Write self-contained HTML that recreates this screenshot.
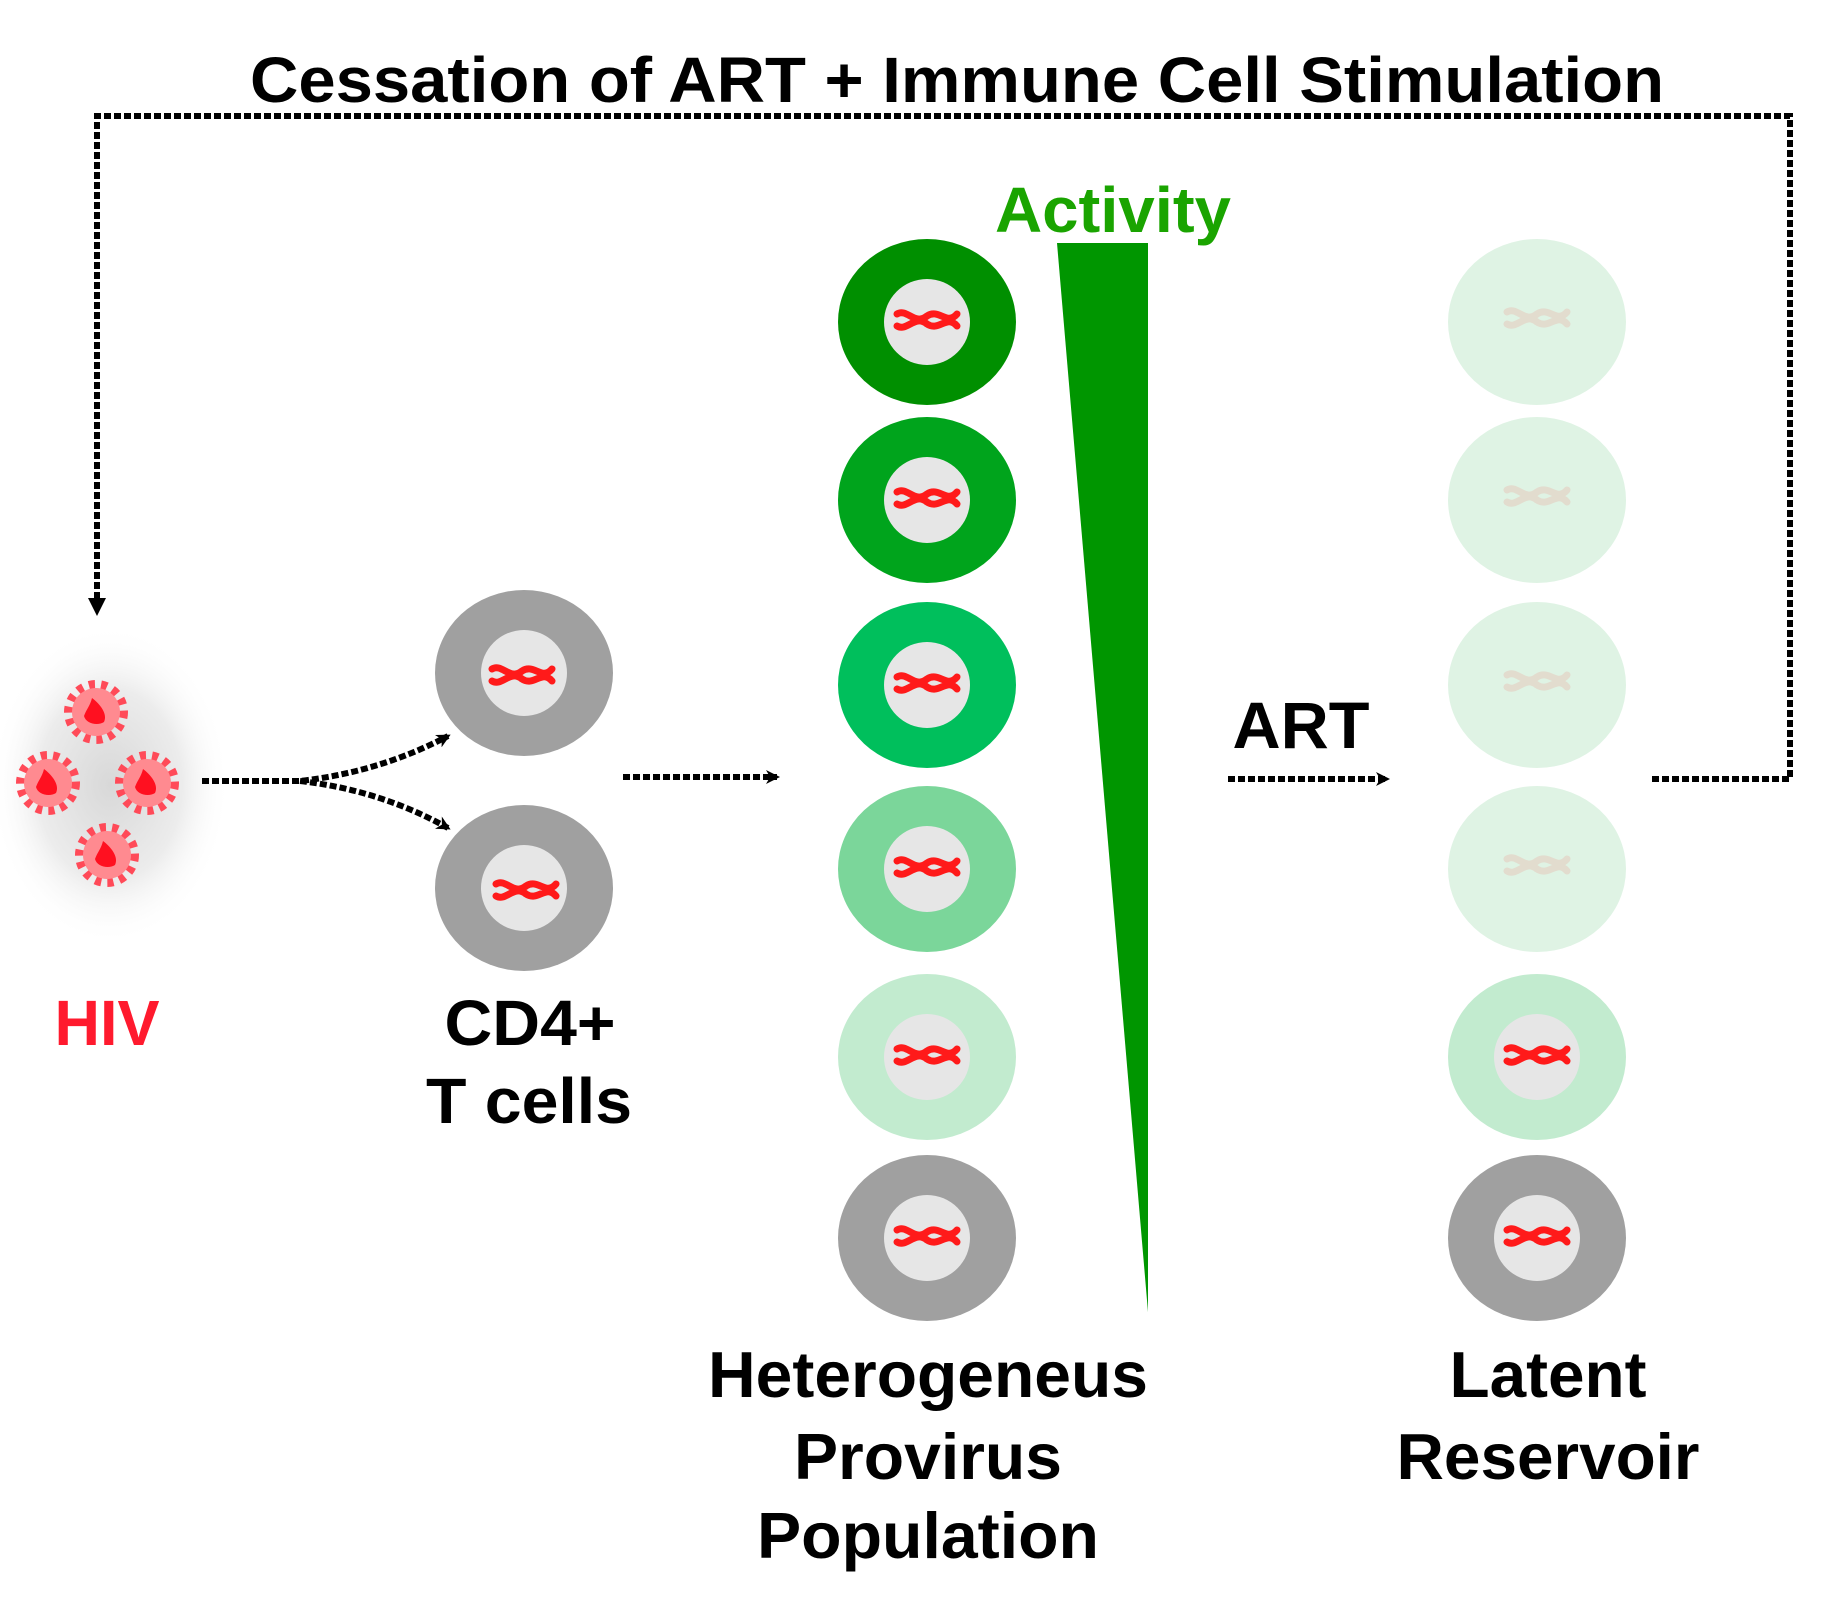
<!DOCTYPE html>
<html><head><meta charset="utf-8"><style>
html,body{margin:0;padding:0;background:#fff;}
svg{display:block;}
text{font-family:"Liberation Sans",Arial,sans-serif;font-weight:bold;}
</style></head><body>
<svg width="1840" height="1600" viewBox="0 0 1840 1600" xmlns="http://www.w3.org/2000/svg">
<defs>
<radialGradient id="glow" cx="50%" cy="50%" r="50%">
<stop offset="0" stop-color="#d8d8d8"/><stop offset="0.6" stop-color="#ececec"/><stop offset="1" stop-color="#fff" stop-opacity="0"/>
</radialGradient>
<marker id="ah" markerWidth="14" markerHeight="14" refX="11" refY="7" orient="auto" markerUnits="userSpaceOnUse">
<path d="M0,0 L14,7 L0,14 L4,7 Z" fill="#000"/>
</marker>
<g id="chr">
<path d="M-30,-6 C-20,-12 -12,6 0,-4 C12,-12 20,6 30,-6 M-30,6 C-20,12 -12,-6 0,4 C12,12 20,-6 30,6" fill="none" stroke="#ff1a1a" stroke-width="7" stroke-linecap="round"/>
</g>
<g id="virus">
<circle r="27" fill="none" stroke="#ff4a58" stroke-width="10" stroke-dasharray="6 6"/>
<circle r="24" fill="#ff8a90"/>
<path d="M-4,-14 C4,-8 12,2 8,10 C2,14 -10,12 -12,4 C-10,-2 -6,-6 -4,-14Z" fill="#ff1020"/>
</g>
</defs>

<text x="957" y="102" font-size="64" text-anchor="middle" textLength="1414" lengthAdjust="spacingAndGlyphs" fill="#000">Cessation of ART + Immune Cell Stimulation</text>

<g fill="none" stroke="#000" stroke-width="6" stroke-dasharray="7 3">
<path d="M97,609 L97,116 L1790,116 L1790,779 L1652,779"/>
</g>
<path d="M88,598 L97,616 L106,598 Z" fill="#000"/>

<ellipse cx="110" cy="785" rx="120" ry="160" fill="url(#glow)"/>
<use href="#virus" x="96" y="712"/>
<use href="#virus" x="48" y="783"/>
<use href="#virus" x="147" y="783"/>
<use href="#virus" x="107" y="855"/>

<text x="107" y="1045" font-size="64" text-anchor="middle" textLength="105" lengthAdjust="spacingAndGlyphs" fill="#ff1a2e">HIV</text>

<g fill="none" stroke="#000" stroke-width="6" stroke-dasharray="7 3">
<path d="M202,781 L300,781 Q380,772 448,736" marker-end="url(#ah)"/>
<path d="M300,781 Q380,790 448,828" marker-end="url(#ah)"/>
<path d="M623,777 L777,777" marker-end="url(#ah)"/>
<path d="M1228,779 L1387,779" marker-end="url(#ah)"/>
</g>

<ellipse cx="524" cy="673" rx="89" ry="83" fill="#a0a0a0"/>
<circle cx="524" cy="673" r="43" fill="#e6e6e6"/>
<use href="#chr" x="522" y="675"/>
<ellipse cx="524" cy="888" rx="89" ry="83" fill="#a0a0a0"/>
<circle cx="524" cy="888" r="43" fill="#e6e6e6"/>
<use href="#chr" x="526" y="890"/>

<text x="530" y="1045" font-size="64" text-anchor="middle" textLength="171" lengthAdjust="spacingAndGlyphs" fill="#000">CD4+</text>
<text x="529" y="1123" font-size="64" text-anchor="middle" textLength="206" lengthAdjust="spacingAndGlyphs" fill="#000">T cells</text>

<g>
<ellipse cx="927" cy="322" rx="89" ry="83" fill="#008f00"/><circle cx="927" cy="322" r="43" fill="#e6e6e6"/><use href="#chr" x="927" y="320"/>
<ellipse cx="927" cy="500" rx="89" ry="83" fill="#00a41c"/><circle cx="927" cy="500" r="43" fill="#e6e6e6"/><use href="#chr" x="927" y="498"/>
<ellipse cx="927" cy="685" rx="89" ry="83" fill="#00bf5c"/><circle cx="927" cy="685" r="43" fill="#e6e6e6"/><use href="#chr" x="927" y="683"/>
<ellipse cx="927" cy="869" rx="89" ry="83" fill="#7bd69a"/><circle cx="927" cy="869" r="43" fill="#e6e6e6"/><use href="#chr" x="927" y="867"/>
<ellipse cx="927" cy="1057" rx="89" ry="83" fill="#c2ebcf"/><circle cx="927" cy="1057" r="43" fill="#e6e6e6"/><use href="#chr" x="927" y="1055"/>
<ellipse cx="927" cy="1238" rx="89" ry="83" fill="#a0a0a0"/><circle cx="927" cy="1238" r="43" fill="#e6e6e6"/><use href="#chr" x="927" y="1236"/>
</g>

<polygon points="1057,243 1148,243 1148,1312" fill="#009600"/>
<text x="1113" y="232" font-size="64" text-anchor="middle" textLength="236" lengthAdjust="spacingAndGlyphs" fill="#1aa400">Activity</text>

<text x="1301" y="748" font-size="66" text-anchor="middle" textLength="137" lengthAdjust="spacingAndGlyphs" fill="#000">ART</text>

<g>
<ellipse cx="1537" cy="322" rx="89" ry="83" fill="#dff3e4"/><g opacity="0.1"><use href="#chr" x="1537" y="318"/></g>
<ellipse cx="1537" cy="500" rx="89" ry="83" fill="#dff3e4"/><g opacity="0.1"><use href="#chr" x="1537" y="496"/></g>
<ellipse cx="1537" cy="685" rx="89" ry="83" fill="#dff3e4"/><g opacity="0.1"><use href="#chr" x="1537" y="681"/></g>
<ellipse cx="1537" cy="869" rx="89" ry="83" fill="#dff3e4"/><g opacity="0.1"><use href="#chr" x="1537" y="865"/></g>
<ellipse cx="1537" cy="1057" rx="89" ry="83" fill="#c2ebcf"/><circle cx="1537" cy="1057" r="43" fill="#e6e6e6"/><use href="#chr" x="1537" y="1055"/>
<ellipse cx="1537" cy="1238" rx="89" ry="83" fill="#a0a0a0"/><circle cx="1537" cy="1238" r="43" fill="#e6e6e6"/><use href="#chr" x="1537" y="1236"/>
</g>

<text x="928" y="1397" font-size="65" text-anchor="middle" textLength="440" lengthAdjust="spacingAndGlyphs" fill="#000">Heterogeneus</text>
<text x="928" y="1479" font-size="65" text-anchor="middle" textLength="268" lengthAdjust="spacingAndGlyphs" fill="#000">Provirus</text>
<text x="928" y="1558" font-size="65" text-anchor="middle" textLength="342" lengthAdjust="spacingAndGlyphs" fill="#000">Population</text>

<text x="1548" y="1397" font-size="65" text-anchor="middle" textLength="197" lengthAdjust="spacingAndGlyphs" fill="#000">Latent</text>
<text x="1548" y="1479" font-size="65" text-anchor="middle" textLength="303" lengthAdjust="spacingAndGlyphs" fill="#000">Reservoir</text>
</svg>
</body></html>
